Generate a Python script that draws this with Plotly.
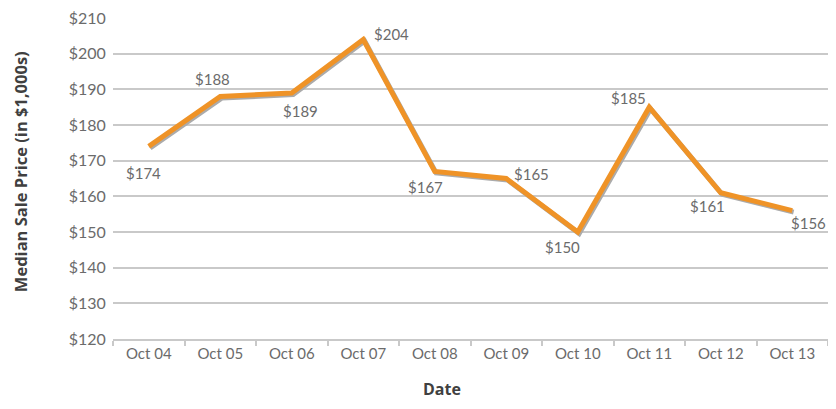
import plotly.graph_objects as go

dates = ['Oct 04', 'Oct 05', 'Oct 06', 'Oct 07', 'Oct 08',
         'Oct 09', 'Oct 10', 'Oct 11', 'Oct 12', 'Oct 13']
prices = [174, 188, 189, 204, 167, 165, 150, 185, 161, 156]
y_ticks = list(range(120, 211, 10))

# label offsets (px) per point
label_shift = [(-5, -27), (-8, 18), (9, -18), (28, 5), (-9, -16),
               (25, 5), (-15, -15), (-21, 9), (-13, -13), (16, -12)]

FONT = 'Source Sans Pro, Lato, sans-serif'
TITLE_FONT = 'Open Sans, sans-serif'
ORANGE = '#EF9327'
GRID = '#C9C9C9'
TXT = '#6B6B6B'

Y_RANGE = [119.98, 210.02]

fig = go.Figure()

# invisible trace so the base axes get the categories
fig.add_trace(go.Scatter(x=dates, y=prices, mode='markers',
                         marker=dict(opacity=0), hoverinfo='skip', showlegend=False))

# shadow line, on slightly offset axes
fig.add_trace(go.Scatter(
    x=list(range(len(dates))), y=prices, mode='lines',
    line=dict(color='#ABABAB', width=5),
    xaxis='x2', yaxis='y2', hoverinfo='skip', showlegend=False,
))

fig.add_trace(go.Scatter(
    x=list(range(len(dates))), y=prices, mode='lines',
    line=dict(color=ORANGE, width=5),
    xaxis='x3', yaxis='y3', showlegend=False,
))

for i, (d, p) in enumerate(zip(dates, prices)):
    dx, dy = label_shift[i]
    fig.add_annotation(x=d, y=p, text=f'${p}', showarrow=False,
                       xshift=dx, yshift=dy,
                       font=dict(family=FONT, size=15, color=TXT))

px_per_unit = 323 / 90.0
off_y = 1.6 / px_per_unit
off_x = 1.4 / 71.5

fig.update_layout(
    width=820, height=393,
    margin=dict(l=105, r=0, t=8, b=62),
    paper_bgcolor='white', plot_bgcolor='white',
    font=dict(family=FONT, color=TXT),
    xaxis=dict(
        type='category', range=[-0.5, 9.5],
        showgrid=False, showline=True, linecolor=GRID, linewidth=1.5,
        ticks='outside', tickson='boundaries', ticklen=5, tickcolor=GRID, tickwidth=1.5,
        tickfont=dict(family=FONT, size=15, color=TXT),
    ),
    yaxis=dict(
        range=Y_RANGE, tickvals=y_ticks,
        ticktext=[f'${v}' for v in y_ticks],
        showgrid=True, gridcolor=GRID, gridwidth=1.5,
        zeroline=False, showline=False, ticks='outside', ticklen=3,
        tickcolor='rgba(0,0,0,0)', ticklabeloverflow='allow',
        tickfont=dict(family=FONT, size=16, color=TXT),
    ),
    xaxis2=dict(overlaying='x', range=[-0.5 - off_x, 9.5 - off_x],
                visible=False, fixedrange=True),
    yaxis2=dict(overlaying='y', range=[Y_RANGE[0] + off_y, Y_RANGE[1] + off_y],
                visible=False, fixedrange=True),
    xaxis3=dict(overlaying='x', range=[-0.5, 9.5], visible=False, fixedrange=True),
    yaxis3=dict(overlaying='y', range=Y_RANGE, visible=False, fixedrange=True),
)

fig.add_annotation(xref='paper', yref='paper', x=-0.130, y=0.52,
                   xanchor='center', yanchor='middle', textangle=-90,
                   text='<b>Median Sale Price (in $1,000s)</b>', showarrow=False,
                   font=dict(family=TITLE_FONT, size=16.5, color='#404040'))
fig.add_annotation(xref='paper', yref='paper', x=0.46, y=-0.155,
                   xanchor='center', yanchor='middle',
                   text='<b>Date</b>', showarrow=False,
                   font=dict(family=TITLE_FONT, size=16, color='#404040'))

fig.write_html("out.html")
